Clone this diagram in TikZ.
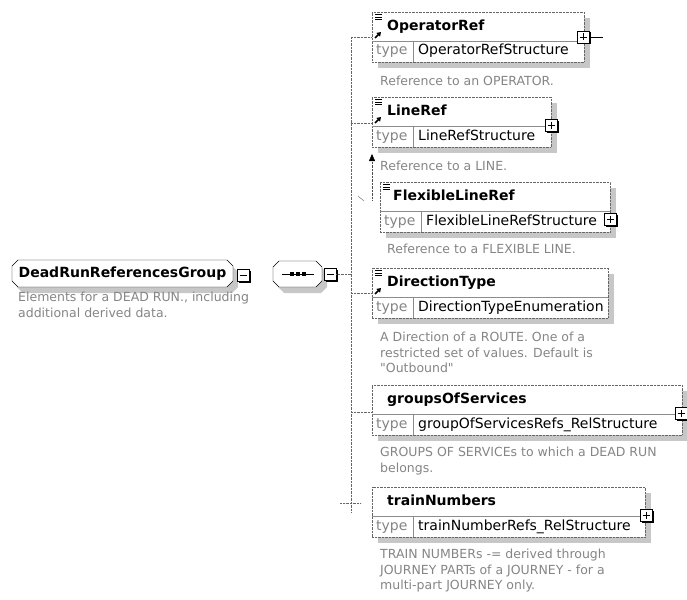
\documentclass[tikz,border=0pt]{standalone}
\usepackage{fontspec}
\setmainfont{DejaVu Sans}[Ligatures=TeXOff]
\usetikzlibrary{arrows.meta, calc, shadows}
\definecolor{boxshadow}{gray}{0.78}
\definecolor{desctext}{gray}{0.52}
\definecolor{dotline}{gray}{0.4}
\tikzstyle{elem} = [rectangle, anchor=north west, draw=dotline, densely dotted, fill=white, inner sep=0pt, outer sep=0pt, drop shadow={shadow xshift=6pt, shadow yshift=-6pt, fill=boxshadow, opacity=1}]
\tikzstyle{groupbox} = [rectangle, inner sep=0pt, outer sep=0pt]
\tikzstyle{octline} = [draw, fill=white, drop shadow={shadow xshift=5pt, shadow yshift=-6pt, fill=boxshadow, opacity=1}]
\tikzstyle{gname} = [inner sep=0pt, font=\fontsize{14}{16}\selectfont\bfseries]
\tikzstyle{ename} = [anchor=west, inner sep=0pt, text height=10pt, text depth=3pt, font=\fontsize{14}{16}\selectfont\bfseries]
\tikzstyle{etype} = [anchor=west, inner sep=0pt, text height=10pt, text depth=3pt, text=desctext, font=\fontsize{14}{16}\selectfont]
\tikzstyle{evalue} = [anchor=west, inner sep=0pt, text height=10pt, text depth=3pt, font=\fontsize{14}{16}\selectfont]
\tikzstyle{edesc} = [anchor=north west, inner sep=0pt, align=left, text=desctext, font=\fontsize{12.5}{15.5}\selectfont]
\tikzstyle{sepline} = [draw=black!45]
\tikzstyle{conn} = [draw=dotline, densely dotted]
\tikzstyle{togglebox} = [rectangle, draw, fill=white, minimum size=12pt, inner sep=0pt, line width=0.7pt, drop shadow={shadow xshift=1.5pt, shadow yshift=-1.5pt, fill=black, opacity=1}]
\tikzstyle{plusbox} = [togglebox, path picture={\draw[line width=0.8pt] ([xshift=2.5pt]path picture bounding box.west) -- ([xshift=-2.5pt]path picture bounding box.east) ([yshift=-2.5pt]path picture bounding box.north) -- ([yshift=2.5pt]path picture bounding box.south);}]
\tikzstyle{minusbox} = [togglebox, path picture={\draw[line width=0.8pt] ([xshift=2.5pt]path picture bounding box.west) -- ([xshift=-2.5pt]path picture bounding box.east);}]

% rows of an element box: name, type, value
\newcommand{\elemrows}[4]{%
  \draw[sepline] ($(#1.north west)+(0,29)$) -- ($(#1.north east)+(0,29)$);
  \draw[sepline] ($(#1.south west)+(41,0)$) -- ($(#1.south west)+(41,-21)$);
  \node (#1-t) [etype] at ($(#1.south west)+(4,-10.5)$) {type};
  \node (#1-v) [evalue] at ($(#1.south west)+(46,-10.5)$) {#3};
  \node (#1-n) [ename] at ($(#1.north west)+(#4,15)$) {#2};}
% octagon outline round a node
\newcommand{\octbox}[2]{\draw[octline] ($(#1.north west)+(#2,0)$) -- ($(#1.north east)+(-#2,0)$) -- ($(#1.north east)+(0,#2)$) -- ($(#1.south east)+(0,-#2)$) -- ($(#1.south east)+(-#2,0)$) -- ($(#1.south west)+(#2,0)$) -- ($(#1.south west)+(0,-#2)$) -- ($(#1.north west)+(0,#2)$) -- cycle;}
\newcommand{\mgicon}[1]{\draw[line width=0.7pt] ($(#1)+(3,2.5)$) -- ++(7,0) ($(#1)+(3,5)$) -- ++(7,0) ($(#1)+(3,7.5)$) -- ++(7,0);}
\newcommand{\refarrow}[1]{\draw[line width=1.5pt, -{Triangle[length=4pt,width=5pt]}] ($(#1)+(3,-3)$) -- ++(6,-6);}

\begin{document}
\begin{tikzpicture}[x=1pt, y=-1pt]
    \useasboundingbox (0,0) rectangle (687,599);

    % group and sequence
    \node (grp) [groupbox, minimum width=221pt, minimum height=27pt] at (122.5,273.5) {};
    \octbox{grp}{6}
    \node (grp-n) [gname] at (grp.center) {DeadRunReferencesGroup};
    \node (grp-m) [minusbox] at (243,275) {};
    \node (grp-d) [edesc] at ($(grp.south west)+(6,5)$) {Elements for a DEAD RUN., including\\additional derived data.};

    \node (seq) [groupbox, minimum width=49pt, minimum height=26pt] at (297.5,274) {};
    \octbox{seq}{6}
    \node (seq-m) [minusbox] at (330,274.5) {};
    \draw [line width=1pt] ($(seq.center)+(-16,0)$) -- ($(seq.center)+(16,0)$);
    \foreach \dx in {-6,0,6}
        \fill ($(seq.center)+(\dx,0)$) +(-2,-2) rectangle +(2,2);

    % trunk
    \coordinate (trunk-top) at (351,37);
    \coordinate (trunk-bot) at (351,512);
    \draw [conn] (trunk-top) -- (trunk-bot);
    \draw [conn] (seq-m.east) -- (seq-m.east -| trunk-top);

    % elements
    \node (opref) [elem, minimum width=212pt, minimum height=50pt] at (372,12) {};
    \elemrows{opref}{OperatorRef}{OperatorRefStructure}{15}
    \node (opref-p) [plusbox] at ($(opref.north east)+(-1,25)$) {};
    \draw (opref-p.east) -- ++(14,0);
    \node (opref-d) [edesc] at ($(opref.south west)+(8,14)$) {Reference to an OPERATOR.};

    \node (linref) [elem, minimum width=179pt, minimum height=50pt] at (372,97) {};
    \elemrows{linref}{LineRef}{LineRefStructure}{15}
    \node (linref-p) [plusbox] at ($(linref.north east)+(0,28)$) {};
    \node (linref-d) [edesc] at ($(linref.south west)+(8,14)$) {Reference to a LINE.};

    \node (flex) [elem, minimum width=230pt, minimum height=50pt] at (380,182) {};
    \elemrows{flex}{FlexibleLineRef}{FlexibleLineRefStructure}{13}
    \node (flex-p) [plusbox] at ($(flex.north east)+(0,37)$) {};
    \node (flex-d) [edesc] at ($(flex.south west)+(7,12)$) {Reference to a FLEXIBLE LINE.};

    \node (dirtype) [elem, minimum width=236pt, minimum height=50pt] at (372,268) {};
    \elemrows{dirtype}{DirectionType}{DirectionTypeEnumeration}{15}
    \node (dirtype-d) [edesc] at ($(dirtype.south west)+(8,14)$) {A Direction of a ROUTE. One of a\\restricted set of values. Default is\\"Outbound"};

    \node (grpsvc) [elem, minimum width=310pt, minimum height=50pt] at (372,385) {};
    \elemrows{grpsvc}{groupsOfServices}{groupOfServicesRefs\_RelStructure}{15}
    \node (grpsvc-p) [plusbox] at ($(grpsvc.north east)+(-1,28)$) {};
    \node (grpsvc-d) [edesc] at ($(grpsvc.south west)+(8,12)$) {GROUPS OF SERVICEs to which a DEAD RUN\\belongs.};

    \node (trnum) [elem, minimum width=273pt, minimum height=50pt] at (372,487) {};
    \elemrows{trnum}{trainNumbers}{trainNumberRefs\_RelStructure}{15}
    \node (trnum-p) [plusbox] at ($(trnum.north east)+(1,28)$) {};
    \node (trnum-d) [edesc] at ($(trnum.south west)+(8,12)$) {TRAIN NUMBERs -= derived through\\JOURNEY PARTs of a JOURNEY - for a\\multi-part JOURNEY only.};

    % icons
    \mgicon{opref.north west}
    \refarrow{$(opref.north west)+(0,29)$}
    \mgicon{linref.north west}
    \refarrow{$(linref.north west)+(0,29)$}
    \mgicon{flex.north west}
    \mgicon{dirtype.north west}
    \refarrow{$(dirtype.north west)+(0,29)$}

    % branches
    \coordinate (opref-in) at ($(opref.north west)+(0,25)$);
    \coordinate (linref-in) at ($(linref.north west)+(0,26)$);
    \coordinate (dirtype-in) at ($(dirtype.north west)+(0,25)$);
    \coordinate (grpsvc-in) at ($(grpsvc.north west)+(0,27)$);
    \coordinate (trnum-in) at ($(trnum.north west)+(-11,16)$);
    \draw [conn] (opref-in -| trunk-top) -- (opref-in);
    \draw [conn] (linref-in -| trunk-top) -- (linref-in);
    \draw [conn] (dirtype-in -| trunk-top) -- (dirtype-in);
    \draw [conn] (grpsvc-in -| trunk-top) -- (grpsvc-in);
    \draw [conn] ($(trnum-in -| trunk-top)+(-11,0)$) -- (trnum-in);

    % flexible line ref
    \coordinate (flex-a) at ($(flex.north west)+(-8,18)$);
    \draw [conn, draw=black!70, -{Triangle[length=7pt,width=6pt,color=black]}] (flex-a) -- ($(linref.south west)+(0,7)$);
    \draw [black!60] ($(flex.north west)+(-22,14)$) -- ++(6,5);

\end{tikzpicture}
\end{document}
